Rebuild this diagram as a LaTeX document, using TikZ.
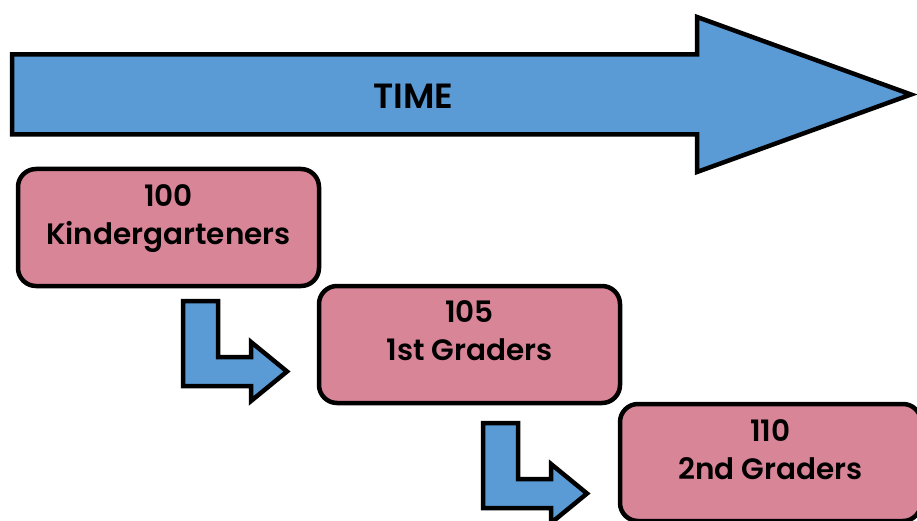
\documentclass[tikz,border=0pt]{standalone}
\usepackage{fontspec}
\setmainfont{Poppins}[BoldFont={Poppins SemiBold}]
\usetikzlibrary{positioning}
\definecolor{timeblue}{HTML}{5B9BD5}
\definecolor{gradepink}{HTML}{D98598}

\begin{document}
\begin{tikzpicture}[x=1pt, y=-1pt,
    blockarrow/.style={fill=timeblue, draw=black, line width=4.5pt, line join=miter},
    gradebox/.style={rectangle, rounded corners=18pt, fill=gradepink, draw=black, line width=4.5pt,
        minimum width=301pt, minimum height=117pt},
    gradetext/.style={align=center, inner sep=0pt, font=\bfseries\fontsize{29.5}{38}\selectfont}]

    % Canvas
    \useasboundingbox (0,0) rectangle (917,521);
    \clip (0,0) rectangle (917,521);

    % Time arrow
    \draw[blockarrow] (12,54.5) -- (697,54.5) -- (697,17) -- (911,94.5)
        -- (697,172) -- (697,134.5) -- (12,134.5) -- cycle;
    \node[font=\bfseries\fontsize{35}{40}\selectfont] (time) at (413.5,96.5) {TIME};

    % Grade boxes
    \node[gradebox] (kinder) at (168.5,227.5) {};
    \node[gradebox] (first) at (469.5,344.5) {};
    \node[gradebox] (second) at (770.5,462.5) {};

    \node[gradetext, below=18pt of kinder.north] (kindertext) {100\\Kindergarteners};
    \node[gradetext, below=17pt of first.north] (firsttext) {105\\1st Graders};
    \node[gradetext, below=18pt of second.north] (secondtext) {110\\2nd Graders};

    % Bent arrows between the boxes
    \draw[blockarrow] (183,301) -- (218,301) -- (218,357) -- (251,357) -- (251,342)
        -- (287,371.5) -- (251,401) -- (251,386) -- (183,386) -- cycle;
    \begin{scope}[shift={(300,122)}]
        \draw[blockarrow] (183,301) -- (218,301) -- (218,357) -- (251,357) -- (251,342)
            -- (287,371.5) -- (251,401) -- (251,386) -- (183,386) -- cycle;
    \end{scope}

\end{tikzpicture}
\end{document}
